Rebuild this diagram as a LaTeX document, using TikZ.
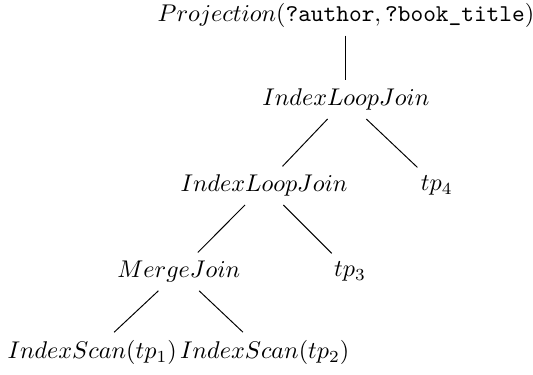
\documentclass[tikz,border=0pt]{standalone}
\usepackage{tikz}
\begin{document}
\begin{tikzpicture}[
    op/.style={
        inner sep=3.33pt
    },
    edge/.style={
        line width=0.4pt
    }
]
\useasboundingbox (0,0) rectangle (7.75,-5.44);

% Operators
\node[op] (proj) at (5.03,-0.22) {$Projection($\texttt{?author}$,$\,\texttt{?book\_title}$)$};
\node[op] (ilja) at (5.03,-1.45) {$IndexLoopJoin$};
\node[op] (iljb) at (3.84,-2.70) {$IndexLoopJoin$};
\node[op] (merge) at (2.60,-3.95) {$MergeJoin$};

% Triple patterns
\node[op] (tpd) at (6.35,-2.70) {$tp_4$};
\node[op] (tpc) at (5.09,-3.95) {$tp_3$};
\node[op] (scana) at (1.34,-5.13) {$IndexScan(tp_1)$};
\node[op] (scanb) at (3.85,-5.13) {$IndexScan(tp_2)$};

% Edges
\draw[edge] (proj) -- (ilja);
\draw[edge] (ilja) -- (iljb);
\draw[edge] (ilja) -- (tpd);
\draw[edge] (iljb) -- (merge);
\draw[edge] (iljb) -- (tpc);
\draw[edge] (merge) -- (scana);
\draw[edge] (merge) -- (scanb);

\end{tikzpicture}
\end{document}
